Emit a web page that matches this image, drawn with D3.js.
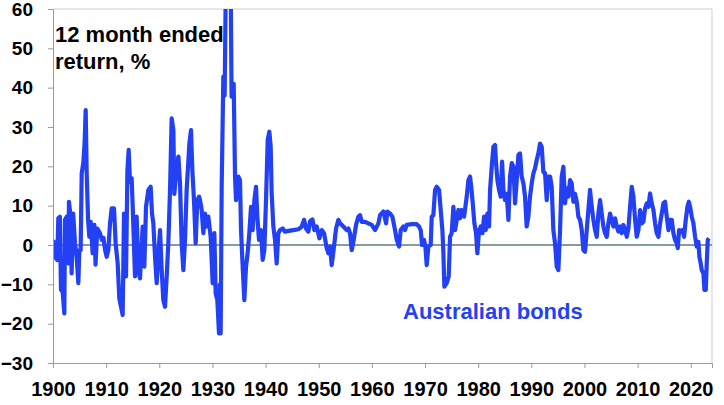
<!DOCTYPE html>
<html>
<head>
<meta charset="utf-8">
<script src="https://cdn.jsdelivr.net/npm/d3@7"></script>
<style>
  html, body { margin: 0; padding: 0; background: #fff; }
  svg { display: block; font-family: "Liberation Sans", Arial, sans-serif; }
</style>
</head>
<body>
<svg id="chart" width="724" height="405"></svg>
<script>
// ---- Data ----
const years = [
  1900.06, 1900.37, 1900.8, 1901.0, 1901.3, 1901.5, 1901.82, 1902.13, 1902.26, 1902.57,
  1902.9, 1903.0, 1903.32, 1903.5, 1903.8, 1904.14, 1904.45, 1904.77, 1904.96, 1905.2,
  1905.4, 1905.7, 1905.95, 1906.15, 1906.34, 1906.6, 1906.84, 1907.1, 1907.46, 1907.8,
  1908.0, 1908.34, 1908.85, 1909.2, 1909.5, 1909.8, 1910.1,
  1910.41, 1910.73, 1911.04, 1911.48, 1911.79, 1912.17, 1912.48, 1912.8, 1913.11,
  1913.36, 1913.74, 1914.0, 1914.24, 1914.49, 1914.8, 1915.0, 1915.43, 1915.74, 1916.06,
  1916.37, 1916.87, 1917.19, 1917.5, 1917.94, 1918.38, 1918.63, 1918.88, 1919.2, 1919.51,
  1919.82, 1920.14, 1920.45, 1920.76, 1921.08, 1921.39, 1921.7, 1922.02, 1922.33, 1922.65,
  1922.83, 1923.15, 1923.59, 1923.9, 1924.21, 1924.53, 1924.84, 1925.15, 1925.66, 1925.97,
  1926.22, 1926.53, 1926.85, 1927.16, 1927.48, 1927.66, 1927.97, 1928.29, 1928.6, 1928.91,
  1929.23, 1929.67, 1930.04, 1930.36, 1930.61, 1930.92, 1931.24, 1931.4, 1931.55, 1931.74,
  1932.05, 1932.3, 1932.5, 1933.45, 1933.6, 1933.8, 1934.0, 1934.25, 1934.44, 1934.87,
  1935.19, 1935.38, 1935.69, 1936.0, 1936.32, 1936.63, 1936.94, 1937.26, 1937.57, 1937.89,
  1938.2, 1938.45, 1938.76, 1939.14, 1939.45, 1939.77, 1940.08, 1940.4, 1940.71, 1940.96,
  1941.15, 1941.46, 1941.78, 1942.09, 1942.4, 1942.72, 1943.22, 1943.66, 1944.29, 1945.23,
  1946.17, 1946.8, 1947.24, 1947.61, 1948.05, 1948.37, 1948.81, 1949.18, 1949.62, 1950.12,
  1950.56, 1951.0, 1951.5, 1951.82, 1952.13, 1952.44, 1952.76, 1953.26, 1953.7, 1954.01,
  1954.64, 1955.27, 1955.58, 1955.89, 1956.21, 1956.52, 1957.02, 1957.46, 1957.78, 1958.09,
  1958.72, 1959.34, 1959.97, 1960.6, 1961.23, 1961.54, 1962.17, 1962.67, 1962.92, 1963.42,
  1963.86, 1964.36, 1964.68, 1965.12, 1965.43, 1965.93, 1966.24, 1966.55, 1967.5, 1968.44,
  1968.88, 1969.19, 1969.44, 1969.82, 1970.07, 1970.32, 1970.63, 1971.07, 1971.26, 1971.57,
  1971.89, 1972.2, 1972.64, 1972.95, 1973.27, 1973.46, 1973.64, 1974.08, 1974.46, 1974.71,
  1975.02, 1975.34, 1975.65, 1975.97, 1976.28, 1976.59, 1976.91, 1977.35, 1977.85, 1978.16,
  1978.47, 1978.73, 1978.98, 1979.29, 1979.6, 1979.85, 1980.17, 1980.48, 1980.8, 1981.11,
  1981.42, 1981.74, 1982.05, 1982.24, 1982.55, 1982.87, 1983.18, 1983.37, 1983.62, 1983.93,
  1984.25, 1984.5, 1984.75, 1985.06, 1985.38, 1985.69, 1986.0, 1986.32, 1986.63, 1986.94,
  1987.26, 1987.57, 1987.88, 1988.19, 1988.51, 1988.82, 1989.13, 1989.45, 1989.76, 1990.08,
  1990.39, 1990.7, 1991.02, 1991.33, 1991.64, 1991.96, 1992.27, 1992.59, 1992.9, 1993.21,
  1993.53, 1993.84, 1994.15, 1994.47, 1994.78, 1995.09, 1995.41, 1995.72, 1996.04, 1996.35,
  1996.66, 1996.98, 1997.29, 1997.6, 1997.92, 1998.23, 1998.55, 1998.86, 1999.17, 1999.49,
  1999.8, 2000.11, 2000.43, 2000.74, 2001.05, 2001.37, 2001.68, 2002.0, 2002.31, 2002.62,
  2002.94, 2003.25, 2003.56, 2003.88, 2004.19, 2004.5, 2004.82, 2005.13, 2005.45, 2005.76,
  2006.07, 2006.39, 2006.7, 2007.02, 2007.33, 2007.64, 2007.96, 2008.27, 2008.58, 2008.9,
  2009.21, 2009.53, 2009.84, 2010.15, 2010.47, 2010.78, 2011.09, 2011.41, 2011.72, 2012.03,
  2012.35, 2012.66, 2012.98, 2013.29, 2013.6, 2013.92, 2014.23, 2014.54, 2014.86, 2015.17,
  2015.49, 2015.8, 2016.11, 2016.43, 2016.74, 2017.05, 2017.37, 2017.56, 2017.81, 2018.12,
  2018.43, 2018.75, 2019.06, 2019.38, 2019.63, 2019.88, 2020.19, 2020.5, 2020.82, 2021.13,
  2021.44, 2021.63, 2021.88, 2022.07, 2022.39, 2022.57, 2022.83, 2023.01, 2023.2, 2023.45
];
const returns = [
  1.3, -3, -3.8, 6.8, 7.2, -11.4, -11.9, -17.4, 6.4, 7.2,
  -4.7, 11, 7.2, -7.2, 8, 0.4, -3, -9.7, -1.3, -1.3,
  18.2, 20.8, 26, 34.3, 18.2, 6.4, 2.1, 5.9, -2.1, 5.1,
  -5, 4.2, 3, 1.3, 1.8, -1.3, -3,
  -1.3, 5.5, 9.3, 9.3, 0.4, -4.7, -13.6, -15.7, -17.8,
  8, -8, 19, 24.2, 16, 17, 9.7, -8, 7.2, -6.4,
  -8.5, 4.7, -5.5, 9.7, 14, 14.8, 8, 5.5, -3, -9.7,
  -2.5, 3.8, -6.4, -14, -15.7, -8, 0.4, 14, 32.2, 29.2,
  13, 18, 22.5, 15.7, 0.4, -6.4, 1.3, 14, 25.8, 29.2,
  19, 11.4, 0.4, 11.4, 12.3, 11.4, 9, 3, 8, 4.7,
  7.2, 2, -9.7, 3, -12.3, -14, -22.5, -10, -22.5, 14.8,
  42.8, 38, 64, 64, 37.7, 41, 41, 17.4, 11.4, 17.4,
  16.5, 3.8, -5.5, -14, -5.5, -2, 3, 9.7, 3.8, 11.4,
  14.8, 7.2, 1.3, 3.8, -3.8, -1.3, 11.4, 26.7, 28.8, 25,
  13, 4.7, 1.3, -4.7, 3, 3.8, 4.2, 3.4, 3.6, 3.8,
  4, 4.7, 6.4, 4.2, 3.4, 6, 6.5, 3.8, 4.7, 1.7,
  3.8, 3, -0.8, -2.1, -0.4, -5.1, -1.7, 4.2, 6.4, 5.5,
  4.7, 3.8, 4.2, 3, -1.3, 0.8, 5.1, 7.2, 7.6, 5.9,
  5.9, 5.5, 5.1, 3.8, 5.5, 7.6, 8.5, 5.5, 8.5, 8,
  7.2, 3.8, 1.3, -0.4, 3.8, 4.7, 3.8, 5.1, 5.3, 5.3,
  4.7, 3.8, 0, 1.3, -0.4, -5.1, -0.4, 0, 7.2, 7.6,
  14, 14.8, 14, 8.9, 3.8, -2.1, -10.6, -9.7, -8, 2.1,
  3, 9.7, 3.8, 6.4, 8.9, 6.8, 8.9, 7.2, 12.3, 16.5,
  17.4, 14.4, 10.6, 5.5, 3, -2.1, 3.8, 4.7, 3, 7.2,
  3.8, 8, 4.7, 14, 19.9, 25, 25.4, 20.8, 16.5, 14,
  12.3, 21.2, 14, 11.4, 13, 6.4, 17.4, 20.8, 19.9, 10.6,
  16.5, 22.9, 23.3, 17.4, 15.7, 12.3, 4.7, 7.2, 12.3, 15.7,
  18.2, 19.5, 21.6, 23.3, 25.8, 25, 18.6, 18.2, 11.4, 17.4,
  17.4, 14.8, 3.8, 0.4, -5.5, -6.4, 3.8, 17.4, 19.9, 10.6,
  14.4, 12.3, 16.5, 15.7, 11, 13, 11, 7.2, 6.4, 3.8,
  -1.3, -1.7, 3.8, 8.9, 14, 9.7, 6.4, 3.8, 2.1, 8,
  11.4, 8, 4.7, 3, 2.1, 5.5, 8, 6.4, 4.7, 6.8,
  4.7, 3.4, 4.7, 3, 5.1, 3.8, 2.1, 4.2, 9.7, 14.8,
  12.3, 6.4, 2.1, 3.8, 8.9, 5.5, 5.9, 9.3, 10.6, 9.7,
  13.1, 10.6, 8.9, 5.5, 3, 2.1, 5.5, 8, 10.6, 11,
  7.2, 3.8, 6.4, 6.4, 3, 1.3, 0.4, -0.8, 3.8, 3.4,
  3.8, 2.1, 6.4, 9.7, 11, 9.7, 7.2, 5.5, 2.1, -0.4,
  0.8, -3, -4.7, -6.4, -7.2, -11.4, -11.4, -4.7, 1.3, 1.7
];
const xTicks = [1900, 1910, 1920, 1930, 1940, 1950, 1960, 1970, 1980, 1990, 2000, 2010, 2020];
const yTicks = [-30, -20, -10, 0, 10, 20, 30, 40, 50, 60];
const titleLines = ["12 month ended", "return, %"];
const seriesLabel = "Australian bonds";

// ---- Layout ----
const svg = d3.select("#chart");
const L = 53, R = 712, T = 9, B = 363;
const blue = "#2340f5";

const x = d3.scaleLinear().domain([1900, 2024]).range([L, R]);
const y = d3.scaleLinear().domain([-30, 60]).range([B, T]);

const points = years.map((yr, i) => ({ yr, v: returns[i] }));

// frame (top & right)
svg.append("line").attr("x1", L).attr("x2", R).attr("y1", T).attr("y2", T)
  .attr("stroke", "#cfcfcf").attr("stroke-width", 1);
svg.append("line").attr("x1", R).attr("x2", R).attr("y1", T).attr("y2", B)
  .attr("stroke", "#cfcfcf").attr("stroke-width", 1);

// zero line
svg.append("line").attr("x1", L).attr("x2", R).attr("y1", y(0)).attr("y2", y(0))
  .attr("stroke", "#5f7d7d").attr("stroke-width", 1.3);

// clip
svg.append("clipPath").attr("id", "plotclip")
  .append("rect").attr("x", L).attr("y", T).attr("width", R - L).attr("height", B - T);

// line
const line = d3.line().x(d => x(d.yr)).y(d => y(d.v));
svg.append("path").datum(points)
  .attr("clip-path", "url(#plotclip)")
  .attr("fill", "none")
  .attr("stroke", blue)
  .attr("stroke-width", 4.2)
  .attr("stroke-linejoin", "round")
  .attr("d", line);

// axes
const yAxis = d3.axisLeft(y).tickValues(yTicks).tickSize(5).tickPadding(15).tickFormat(d3.format("d"));
const gy = svg.append("g").attr("transform", `translate(${L},0)`).call(yAxis);
gy.select(".domain").attr("stroke", "#9a9a9a");
gy.selectAll(".tick line").attr("stroke", "#9a9a9a");
gy.selectAll("text").attr("font-size", 19).attr("font-weight", "bold")
  .attr("fill", "#000").attr("font-family", "Liberation Sans, Arial, sans-serif");

const xAxis = d3.axisBottom(x).tickValues(xTicks).tickSize(5).tickPadding(14).tickFormat(d3.format("d"));
const gx = svg.append("g").attr("transform", `translate(0,${B})`).call(xAxis);
gx.select(".domain").attr("stroke", "#9a9a9a");
gx.selectAll(".tick line").attr("stroke", "#9a9a9a");
gx.selectAll("text").attr("font-size", 20).attr("font-weight", "bold")
  .attr("fill", "#000").attr("font-family", "Liberation Sans, Arial, sans-serif");

// title
const title = svg.append("text").attr("x", 55).attr("y", 42)
  .attr("font-size", 22).attr("font-weight", "bold").attr("fill", "#000");
titleLines.forEach((t, i) => {
  title.append("tspan").attr("x", 55).attr("y", 42 + i * 26.5).text(t);
});

// series label
svg.append("text").attr("x", 403).attr("y", 319)
  .attr("font-size", 22).attr("font-weight", "bold").attr("fill", blue)
  .text(seriesLabel);
</script>
</body>
</html>
